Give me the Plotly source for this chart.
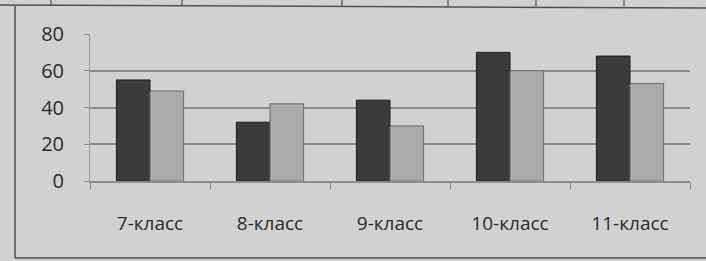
import plotly.graph_objects as go

categories = ["7-класс", "8-класс", "9-класс", "10-класс", "11-класс"]
series_dark = [55, 32, 44, 70, 68]
series_light = [49, 42, 30, 60, 53]
y_ticks = [0, 20, 40, 60, 80]

fig = go.Figure()
fig.add_trace(go.Bar(x=categories, y=series_dark, name="A",
                     marker=dict(color="#3b3b3b", line=dict(color="#1e1e1e", width=1))))
fig.add_trace(go.Bar(x=categories, y=series_light, name="B",
                     marker=dict(color="#ababab", line=dict(color="#6a6a6a", width=1))))

font_family = "Open Sans, Liberation Sans, sans-serif"

L, T, R, B = 90, 34, 16, 80
W, H = 706, 261

fig.update_layout(
    width=W, height=H,
    margin=dict(l=L, r=R, t=T, b=B, autoexpand=False),
    paper_bgcolor="#d1d1d1",
    plot_bgcolor="#d1d1d1",
    barmode="group",
    bargap=0.44,
    bargroupgap=0.0,
    showlegend=False,
    font=dict(family=font_family, color="#2a2a2a", size=19),
    xaxis=dict(
        type="category", automargin=False,
        showline=True, linecolor="#8c8c8c", linewidth=1.5,
        ticks="outside", tickson="boundaries", ticklen=6, tickcolor="#8c8c8c",
        ticklabelstandoff=24,
        tickfont=dict(size=19, color="#2a2a2a"),
        showgrid=False,
    ),
    yaxis=dict(
        range=[0, 80], automargin=False,
        tickvals=y_ticks,
        showgrid=True, gridcolor="#8a8a8a", gridwidth=1.5,
        showline=True, linecolor="#9a9a9a", linewidth=1,
        ticks="outside", ticklen=5, tickcolor="#8a8a8a",
        ticklabelstandoff=16,
        tickfont=dict(size=20, color="#2a2a2a"),
        zeroline=False,
    ),
)

# convert figure pixels to paper (plot-area) fractions
PW = W - L - R
PH = H - T - B
def px(x):
    return (x - L) / PW
def py(y):
    return (H - B - y) / PH

frame = dict(color="#505050", width=1.5)
fig.add_shape(type="line", xref="paper", yref="paper",
              x0=px(15), x1=px(15), y0=py(6), y1=py(258), line=frame)
fig.add_shape(type="line", xref="paper", yref="paper",
              x0=px(15), x1=px(706), y0=py(258), y1=py(258), line=frame)
fig.add_shape(type="line", xref="paper", yref="paper",
              x0=px(0), x1=px(706), y0=py(5), y1=py(8), line=frame)
for xv in [51, 182, 342, 448, 536, 624]:
    fig.add_shape(type="line", xref="paper", yref="paper",
                  x0=px(xv), x1=px(xv), y0=py(0), y1=py(6),
                  line=dict(color="#505050", width=1.2))

fig.write_html("out.html", config={"displayModeBar": False},
               post_script="document.body.style.margin='0';document.body.style.overflow='hidden';")
